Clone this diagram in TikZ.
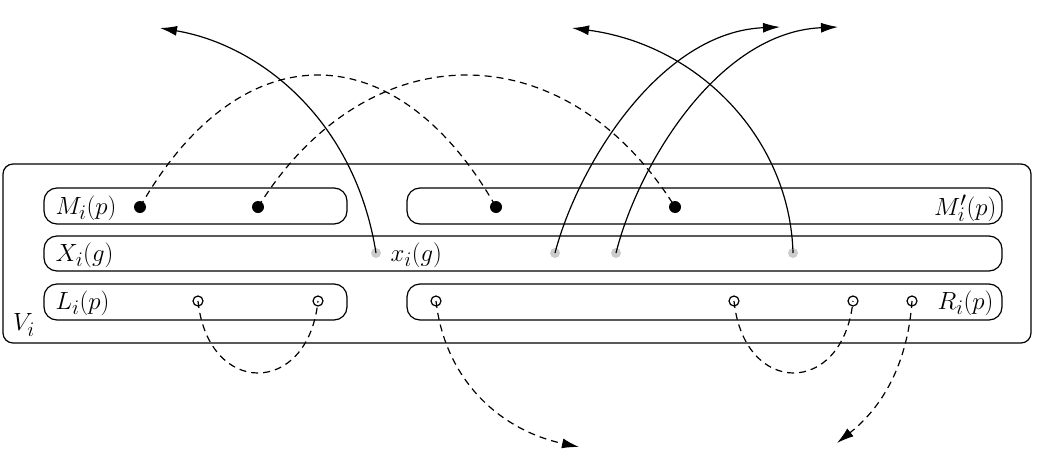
\documentclass[tikz,border=0pt]{standalone}
\usetikzlibrary{arrows.meta}
\begin{document}
\begin{tikzpicture}[x=1pt,y=-1pt,line width=1.2pt,
  grp/.style={draw,rounded corners=13pt,inner sep=0pt},
  fdot/.style={circle,fill=black,inner sep=0pt,minimum size=12pt},
  gdot/.style={circle,fill=black!20,inner sep=0pt,minimum size=10pt},
  odot/.style={circle,draw,inner sep=0pt,minimum size=10pt},
  lbl/.style={font=\fontsize{24.88}{30}\selectfont,inner sep=0pt},
  sol/.style={-{Latex[length=17pt,width=10pt]}},
  dsh/.style={dash pattern=on 7pt off 5pt},
  dsharr/.style={dash pattern=on 7pt off 5pt,-{Latex[length=17pt,width=10pt]}}]
\useasboundingbox (0,0) rectangle (1037,458);
% boxes
\node[grp,rounded corners=10pt,minimum width=1028pt,minimum height=179pt] (V) at (517,253.5) {};
\node[grp,minimum width=303pt,minimum height=36pt] (Mb) at (195.5,206) {};
\node[grp,minimum width=595pt,minimum height=36pt] (Mpb) at (704.5,206) {};
\node[grp,minimum width=958pt,minimum height=35pt] (Xb) at (523,253.5) {};
\node[grp,minimum width=303pt,minimum height=36pt] (Lb) at (195.5,302) {};
\node[grp,minimum width=595pt,minimum height=36pt] (Rb) at (704.5,302) {};
% labels
\node[lbl,anchor=west] (Ml) at (55,208) {$M_i(p)$};
\node[lbl,anchor=east] (Mpl) at (997,208) {$M'_i(p)$};
\node[lbl,anchor=west] (Xl) at (55,255) {$X_i(g)$};
\node[lbl,anchor=west] (xl) at (390,255) {$x_i(g)$};
\node[lbl,anchor=west] (Ll) at (55,303) {$L_i(p)$};
\node[lbl,anchor=east] (Rl) at (994,303) {$R_i(p)$};
\node[lbl] (Vl) at (24,325) {$V_i$};
% dots
\node[fdot] (f1) at (140,207) {};
\node[fdot] (f2) at (258,207) {};
\node[fdot] (f3) at (496,207) {};
\node[fdot] (f4) at (675,207) {};
\node[gdot] (g1) at (376,253) {};
\node[gdot] (g2) at (555,253) {};
\node[gdot] (g3) at (616,253) {};
\node[gdot] (g4) at (793,253) {};
\node[odot] (o1) at (198,301) {};
\node[odot] (o2) at (318,301) {};
\node[odot] (o3) at (436,301) {};
\node[odot] (o4) at (734,301) {};
\node[odot] (o5) at (853,301) {};
\node[odot] (o6) at (912,301) {};
% free ends
\coordinate (t1) at (160,28);
\coordinate (t2) at (780,27);
\coordinate (t3) at (838,27);
\coordinate (t4) at (572,28);
\coordinate (t5) at (579,447);
\coordinate (t6) at (837,443);
% dashed arcs on top
\draw[dsh] (f1.center) .. controls (240,31) and (396,31) .. (f3.center);
\draw[dsh] (f2.center) .. controls (368,31) and (565,31) .. (f4.center);
% solid arrows
\draw[sol] (g1.center) .. controls (355,120) and (260,45) .. (t1);
\draw[sol] (g2.center) .. controls (578,165) and (660,32) .. (t2);
\draw[sol] (g3.center) .. controls (638,165) and (718,32) .. (t3);
\draw[sol] (g4.center) .. controls (790,140) and (700,45) .. (t4);
% lower dashed
\draw[dsh] (o1.center) .. controls (208,397) and (308,397) .. (o2.center);
\draw[dsh] (o4.center) .. controls (744,397) and (843,397) .. (o5.center);
\draw[dsharr] (o3.center) .. controls (445,380) and (500,430) .. (t5);
\draw[dsharr] (o6.center) .. controls (908,360) and (885,405) .. (t6);
\end{tikzpicture}
\end{document}
